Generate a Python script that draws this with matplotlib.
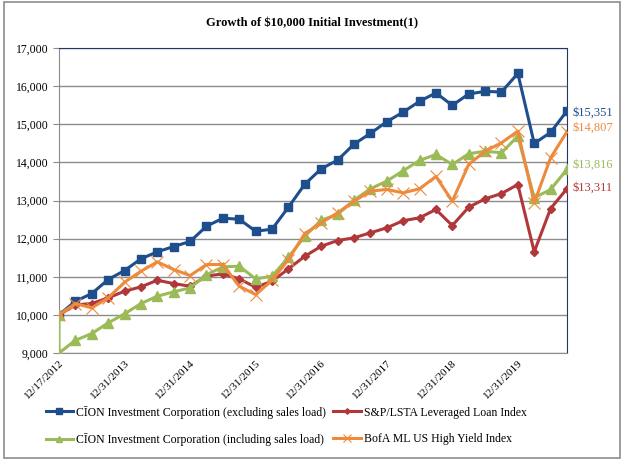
import matplotlib
matplotlib.use('Agg')
from matplotlib import pyplot as plt
from matplotlib.patches import Rectangle

# 季度数据 (12/17/2012 起, 共 32 个点)
n_points = 32
tick_labels = ['12/17/2012', '12/31/2013', '12/31/2014', '12/31/2015',
               '12/31/2016', '12/31/2017', '12/31/2018', '12/31/2019']
tick_step = 4

cion_excl = [10000, 10357, 10559, 10927, 11163, 11470, 11654, 11793,
             11925, 12325, 12535, 12509, 12194, 12247, 12824, 13428,
             13832, 14058, 14478, 14759, 15066, 15318, 15601, 15822,
             15496, 15794, 15863, 15845, 16333, 14497, 14787, 15351]
sp_lsta = [10000, 10262, 10297, 10446, 10620, 10735, 10908, 10821,
           10751, 11017, 11076, 10945, 10725, 10882, 11207, 11538,
           11800, 11950, 12021, 12152, 12283, 12470, 12546, 12764,
           12344, 12824, 13043, 13182, 13418, 11654, 12790, 13311]
# 含销售费用: 起点 10000 后扣除费用变为 9000
cion_incl_start = 10000
cion_incl = [9000, 9333, 9509, 9790, 10026, 10297, 10490, 10604,
             10709, 11050, 11260, 11276, 10945, 11013, 11512, 12063,
             12483, 12633, 13008, 13307, 13507, 13780, 14050, 14207,
             13945, 14225, 14294, 14251, 14687, 13071, 13289, 13816]
bofa_hy = [10000, 10297, 10184, 10446, 10856, 11144, 11391, 11189,
           11031, 11320, 11320, 10751, 10533, 10908, 11451, 12133,
           12415, 12677, 12982, 13245, 13290, 13202, 13307, 13630,
           12982, 13945, 14294, 14513, 14820, 12940, 14120, 14807]

BLUE = '#1F4E8C'
RED = '#B0383A'
GREEN = '#9BBB59'
ORANGE = '#EE8A3C'

plt.rcParams['font.family'] = ['Liberation Serif', 'DejaVu Serif']
plt.rcParams['font.size'] = 8

fig = plt.figure(figsize=(6.24, 4.66), dpi=100)
ax = fig.add_axes([59/624, 1-353/466, (567-59)/624, (353-48)/466])

# 外框
fig.patches.append(Rectangle((4/624, 1-458/466), 616/624, 456/466,
                             transform=fig.transFigure, fill=False,
                             edgecolor='#8C8C8C', lw=1.2))

x = list(range(n_points))
lw = 2.2
h_blue, = ax.plot(x, cion_excl, color=BLUE, lw=lw, marker='s', markersize=5.5,
                  label='CĪON Investment Corporation (excluding sales load)',
                  zorder=3)
h_red, = ax.plot(x, sp_lsta, color=RED, lw=lw, marker='D', markersize=4,
                 label='S&P/LSTA Leveraged Loan Index', zorder=3)
h_green, = ax.plot([0] + x, [cion_incl_start] + cion_incl, color=GREEN, lw=lw,
                   marker='^', markersize=7,
                   label='CĪON Investment Corporation (including sales load)',
                   zorder=3)
h_orange, = ax.plot(x, bofa_hy, color=ORANGE, lw=lw, marker='x', markersize=8,
                    markeredgewidth=0.8,
                    label='BofA ML US High Yield Index', zorder=3)

# 末端数值标注
ends = [(cion_excl, BLUE, -1), (bofa_hy, ORANGE, 3),
        (cion_incl, GREEN, 3), (sp_lsta, RED, 1)]
for series, c, dy in ends:
    ax.annotate(f'${series[-1]:,}', (x[-1], series[-1]),
                xytext=(4, dy), textcoords='offset points',
                color=c, fontsize=9, va='center', ha='left',
                annotation_clip=False)

ax.set_xlim(0, n_points - 1)
ax.set_ylim(9000, 17000)
ax.set_yticks(range(9000, 17001, 1000))
ax.yaxis.set_major_formatter(matplotlib.ticker.StrMethodFormatter('{x:,.0f}'))
ax.set_xticks(range(0, n_points, tick_step))
ax.set_xticklabels(tick_labels, rotation=45, ha='right',
                   rotation_mode='anchor')
ax.tick_params(axis='x', length=0, pad=4, labelsize=8)
ax.tick_params(axis='y', length=4, color='#8C8C8C', labelsize=8.5)
ax.grid(axis='y', color='#8C8C8C', lw=1)
ax.set_axisbelow(True)

for s in ['top', 'right']:
    ax.spines[s].set_color('#1F3864')
ax.spines['left'].set_color('#8C8C8C')
ax.spines['bottom'].set_color('#8C8C8C')

fig.suptitle('Growth of $10,000 Initial Investment(1)', y=1-23/466,
             fontsize=9, fontweight='bold', va='center')

# 图例: 先列后行, 所以顺序为 蓝, 绿, 红, 橙
fig.legend([h_blue, h_green, h_red, h_orange],
           [h.get_label() for h in [h_blue, h_green, h_red, h_orange]],
           loc='center', bbox_to_anchor=(0.459, 1-426/466), ncol=2,
           frameon=False, fontsize=8.5, handlelength=2.3, markerscale=0.7,
           columnspacing=0.6, handletextpad=0.3, labelspacing=1.25)

plt.savefig('out.png', dpi=100)
